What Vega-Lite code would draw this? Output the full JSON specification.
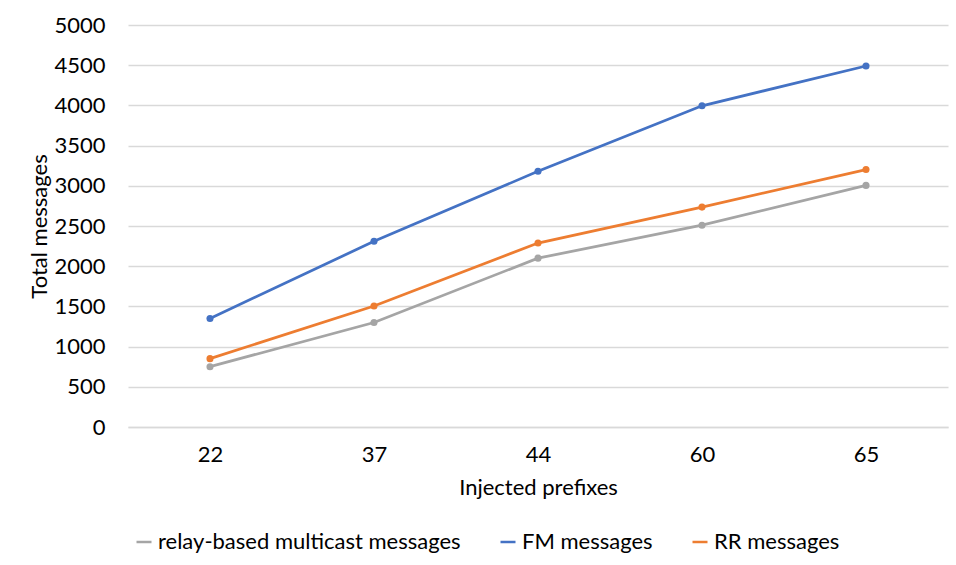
{
  "$schema": "https://vega.github.io/schema/vega-lite/v6.json",
  "width": 820,
  "height": 402,
  "autosize": {"type": "none"},
  "padding": {"left": 128, "top": 25, "right": 8, "bottom": 138},
  "background": "white",
  "config": {
    "font": "Lato",
    "view": {"stroke": null}
  },
  "data": {
    "values": [
      {"x": "22", "series": "relay-based multicast messages", "value": 750},
      {"x": "37", "series": "relay-based multicast messages", "value": 1300},
      {"x": "44", "series": "relay-based multicast messages", "value": 2100},
      {"x": "60", "series": "relay-based multicast messages", "value": 2510},
      {"x": "65", "series": "relay-based multicast messages", "value": 3005},
      {"x": "22", "series": "FM messages", "value": 1350},
      {"x": "37", "series": "FM messages", "value": 2310},
      {"x": "44", "series": "FM messages", "value": 3180},
      {"x": "60", "series": "FM messages", "value": 3995},
      {"x": "65", "series": "FM messages", "value": 4490},
      {"x": "22", "series": "RR messages", "value": 850},
      {"x": "37", "series": "RR messages", "value": 1505},
      {"x": "44", "series": "RR messages", "value": 2288},
      {"x": "60", "series": "RR messages", "value": 2735},
      {"x": "65", "series": "RR messages", "value": 3202}
    ]
  },
  "encoding": {
    "x": {
      "field": "x",
      "type": "ordinal",
      "sort": ["22", "37", "44", "60", "65"],
      "scale": {"type": "point", "padding": 0.5},
      "axis": {
        "title": "Injected prefixes",
        "labelAngle": 0,
        "labelFontSize": 22,
        "labelColor": "#000000",
        "labelPadding": 17,
        "titleFontSize": 22,
        "titleFontWeight": "normal",
        "titleColor": "#000000",
        "titlePadding": 12,
        "ticks": false,
        "domainColor": "#d9d9d9",
        "domainWidth": 1.5,
        "grid": false
      }
    },
    "y": {
      "field": "value",
      "type": "quantitative",
      "scale": {"domain": [0, 5000]},
      "axis": {
        "title": "Total messages",
        "format": "d",
        "values": [0, 500, 1000, 1500, 2000, 2500, 3000, 3500, 4000, 4500, 5000],
        "labelFontSize": 22,
        "labelColor": "#000000",
        "labelPadding": 23,
        "titleFontSize": 22,
        "titleFontWeight": "normal",
        "titleColor": "#000000",
        "titlePadding": 2,
        "ticks": false,
        "domain": false,
        "gridColor": "#d9d9d9",
        "gridWidth": 1.5
      }
    },
    "color": {
      "field": "series",
      "type": "nominal",
      "scale": {
        "domain": ["relay-based multicast messages", "FM messages", "RR messages"],
        "range": ["#A5A5A5", "#4472C4", "#ED7D31"]
      },
      "legend": {
        "title": null,
        "orient": "none",
        "direction": "horizontal",
        "legendX": 5,
        "legendY": 506,
        "symbolType": "stroke",
        "symbolStrokeWidth": 2.5,
        "symbolSize": 225,
        "labelFontSize": 22,
        "labelColor": "#000000",
        "labelOffset": 3,
        "columnPadding": 34,
        "labelLimit": 400
      }
    }
  },
  "layer": [
    {"mark": {"type": "line", "strokeWidth": 2.75}},
    {"mark": {"type": "point", "filled": true, "size": 50, "opacity": 1}}
  ]
}
